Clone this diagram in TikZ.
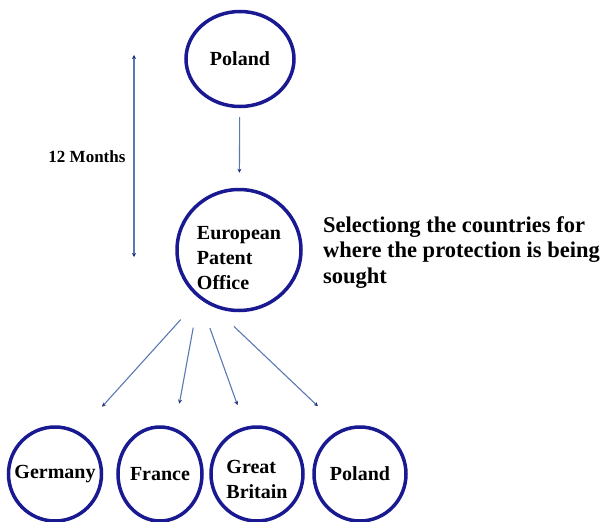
\documentclass[tikz,border=0pt]{standalone}
\usepackage{fontspec}
\setmainfont{Liberation Serif}
\usetikzlibrary{positioning, shapes.geometric, arrows.meta}
\definecolor{ringblue}{RGB}{25,25,145}
\definecolor{linkblue}{RGB}{90,120,180}
\definecolor{tipblue}{RGB}{30,45,125}
\tikzstyle{country} = [ellipse, draw=ringblue, line width=3.5pt, inner xsep=-12pt, inner ysep=0pt, align=left, font=\bfseries\fontsize{20}{25}\selectfont]
\tikzstyle{inside} = [align=left, font=\bfseries\fontsize{20}{25}\selectfont]
\tikzstyle{note} = [inner sep=0pt, align=left, font=\bfseries\fontsize{22.5}{25.5}\selectfont]
\tikzstyle{arrow} = [line width=1.1pt, draw=linkblue, ->, >={Stealth[length=4pt,width=4pt,color=tipblue]}]

\begin{document}
\begin{tikzpicture}[x=1pt, y=-1pt]
	\useasboundingbox (0,0) rectangle (603,522);

	% Nodes
	\node (poland) [country, minimum width=108pt, minimum height=95pt] at (240,59) {Poland};
	\node (epo) [country, minimum width=124pt, minimum height=121pt, label={[inside, yshift=-8pt]center:European\\Patent\\Office}] at (239,250) {};
	\node (germany) [country, minimum width=93pt, minimum height=94pt] at (55,474) {Germany};
	\node (france) [country, minimum width=84pt, minimum height=94pt] at (160,474) {France};
	\node (britain) [country, minimum width=92pt, minimum height=94pt, label={[inside, yshift=-5pt]center:Great\\Britain}] at (257,474) {};
	\node (poland2) [country, minimum width=92pt, minimum height=94pt] at (360,474) {Poland};
	\node (select) [note, anchor=north west] at (323,216) {Selectiong the countries for\\where the protection is being\\sought};
	\node (months) [anchor=east, font=\bfseries\fontsize{17}{20}\selectfont] at (129,157) {12 Months};
	\coordinate (mtop) at (134,55);
	\coordinate (mbot) at (134,257);

	% Arrows
	\draw [arrow, <->] (mtop) -- (mbot);
	\draw [arrow, shorten <=9pt, shorten >=15pt] (poland) -- (epo);
	\draw [arrow, shorten <=28pt, shorten >=34pt] (epo.231) -- (germany.60);
	\draw [arrow, shorten <=30pt, shorten >=25pt] (epo.230) -- (france.72);
	\draw [arrow, shorten <=31pt, shorten >=23pt] (epo.231) -- (britain.104);
	\draw [arrow, shorten <=28pt, shorten >=33pt] (epo.246) -- (poland2.112);

\end{tikzpicture}
\end{document}
